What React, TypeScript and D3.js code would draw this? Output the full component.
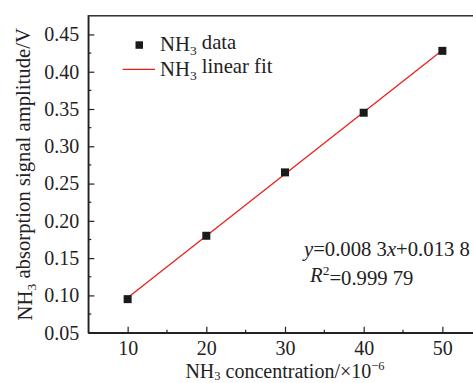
import React, { useRef, useEffect, useCallback } from 'react'
import * as d3 from 'd3'

const concentration = [10, 20, 30, 40, 50]
const amplitude = [0.095, 0.18, 0.265, 0.345, 0.428]
const fitX = [10, 50]
const fitY = [0.0968, 0.4288]
const xTicks = [10, 20, 30, 40, 50]
const xMinorTicks = [15, 25, 35, 45]
const yTicks = [0.05, 0.1, 0.15, 0.2, 0.25, 0.3, 0.35, 0.4, 0.45]
const yMinorTicks = [0.075, 0.125, 0.175, 0.225, 0.275, 0.325, 0.375, 0.425]

const W = 473
const H = 383
const FONT = "'Liberation Serif', 'DejaVu Serif', serif"
const INK = '#222'
const FS = 20.7

const App = () => {
    const chartRef = useRef<HTMLDivElement>(null)

    const drawChart = useCallback(() => {
        if (!chartRef.current) return
        const svg = d3.select(chartRef.current)
            .append('svg')
            .attr('width', W)
            .attr('height', H)
            .attr('font-family', FONT)
            .style('position', 'absolute')
            .style('left', 0)
            .style('top', 0)

        const x = d3.scaleLinear().domain([5, 55]).range([88.3, 481.7])
        const y = d3.scaleLinear().domain([0.05, 0.475]).range([332.7, 15.8])

        // frame
        svg.append('rect')
            .attr('x', x(5)).attr('y', y(0.475))
            .attr('width', x(55) - x(5)).attr('height', y(0.05) - y(0.475))
            .attr('fill', 'none').attr('stroke', INK).attr('stroke-width', 1.4)

        // x axis
        const gx = svg.append('g')
            .attr('transform', `translate(0, ${y(0.05)})`)
            .call(d3.axisBottom(x).tickValues(xTicks).tickSizeInner(-6).tickSizeOuter(0).tickPadding(8).tickFormat(d3.format('d')))
        gx.attr('font-family', FONT)
        gx.append('g').selectAll('line').data(xMinorTicks).join('line')
            .attr('x1', d => x(d)).attr('x2', d => x(d)).attr('y1', 0).attr('y2', -3)
        gx.selectAll('line').attr('stroke', INK).attr('stroke-width', 1.2)
        gx.select('.domain').attr('stroke', INK).attr('stroke-width', 1.4)
        gx.selectAll('text').attr('font-size', 20).attr('fill', INK)

        // y axis
        const gy = svg.append('g')
            .attr('transform', `translate(${x(5)}, 0)`)
            .call(d3.axisLeft(y).tickValues(yTicks).tickSizeInner(-6).tickSizeOuter(0).tickPadding(9).tickFormat(d3.format('.2f')))
        gy.attr('font-family', FONT)
        gy.append('g').selectAll('line').data(yMinorTicks).join('line')
            .attr('y1', d => y(d)).attr('y2', d => y(d)).attr('x1', 0).attr('x2', 3)
        gy.selectAll('line').attr('stroke', INK).attr('stroke-width', 1.2)
        gy.select('.domain').attr('stroke', INK).attr('stroke-width', 1.4)
        gy.selectAll('text').attr('font-size', 20).attr('fill', INK)

        // fit line
        svg.append('path')
            .datum(fitX.map((d, i) => [d, fitY[i]]))
            .attr('fill', 'none')
            .attr('stroke', '#e8201c')
            .attr('stroke-width', 1.3)
            .attr('d', d3.line<number[]>().x(d => x(d[0])).y(d => y(d[1])))

        // data points
        svg.append('g').selectAll('rect')
            .data(concentration.map((d, i) => [d, amplitude[i]]))
            .join('rect')
            .attr('x', d => x(d[0]) - 4)
            .attr('y', d => y(d[1]) - 4)
            .attr('width', 8).attr('height', 8)
            .attr('fill', '#1a1a1a')

        const nh3 = (t: d3.Selection<SVGTextElement, unknown, null, undefined>, rest: string) => {
            t.append('tspan').text('NH')
            t.append('tspan').text('3').attr('font-size', 13.5).attr('dy', '0.3em')
            t.append('tspan').text(rest).attr('dy', '-0.3em')
        }

        // legend
        svg.append('rect').attr('x', 135.5).attr('y', 41.3).attr('width', 7.5).attr('height', 7.5).attr('fill', '#1a1a1a')
        const l1 = svg.append('text').attr('x', 160).attr('y', 51).attr('font-size', FS).attr('fill', INK)
        nh3(l1, ' data')
        svg.append('line').attr('x1', 122.7).attr('x2', 155).attr('y1', 69.3).attr('y2', 69.3)
            .attr('stroke', '#e8201c').attr('stroke-width', 1.3)
        const l2 = svg.append('text').attr('x', 160).attr('y', 75.5).attr('font-size', FS).attr('fill', INK)
        nh3(l2, ' linear fit')

        // equation
        const eq = svg.append('text').attr('x', 304).attr('y', 256).attr('font-size', FS).attr('fill', INK)
        eq.append('tspan').text('y').attr('font-style', 'italic')
        eq.append('tspan').text('=0.008 3')
        eq.append('tspan').text('x').attr('font-style', 'italic')
        eq.append('tspan').text('+0.013 8')
        const r2 = svg.append('text').attr('x', 310).attr('y', 281.5).attr('font-size', FS).attr('fill', INK)
        r2.append('tspan').text('R').attr('font-style', 'italic')
        r2.append('tspan').text('2').attr('font-size', 13.5).attr('dy', '-0.45em')
        r2.append('tspan').text('=0.999 79').attr('dy', '0.45em')

        // axis titles
        const xt = svg.append('text').attr('x', (x(5) + x(55)) / 2).attr('y', 378)
            .attr('text-anchor', 'middle').attr('font-size', 20).attr('fill', INK)
        xt.append('tspan').text('NH')
        xt.append('tspan').text('3').attr('font-size', 12.5).attr('dy', 2)
        xt.append('tspan').text(' concentration/×10').attr('dy', -2)
        xt.append('tspan').text('−6').attr('font-size', 12.5).attr('dy', -8)

        const yt = svg.append('text')
            .attr('transform', `translate(32, ${(y(0.05) + y(0.475)) / 2}) rotate(-90)`)
            .attr('text-anchor', 'middle').attr('font-size', FS).attr('fill', INK)
        nh3(yt, ' absorption signal amplitude/V')
    }, [])

    const destroyChart = useCallback(() => {
        if (chartRef.current) d3.select(chartRef.current).select('svg').remove()
    }, [])

    useEffect(() => {
        drawChart()
        return () => destroyChart()
    }, [drawChart, destroyChart])

    return <div ref={chartRef} style={{ width: W, height: H }}></div>
}

export default App
